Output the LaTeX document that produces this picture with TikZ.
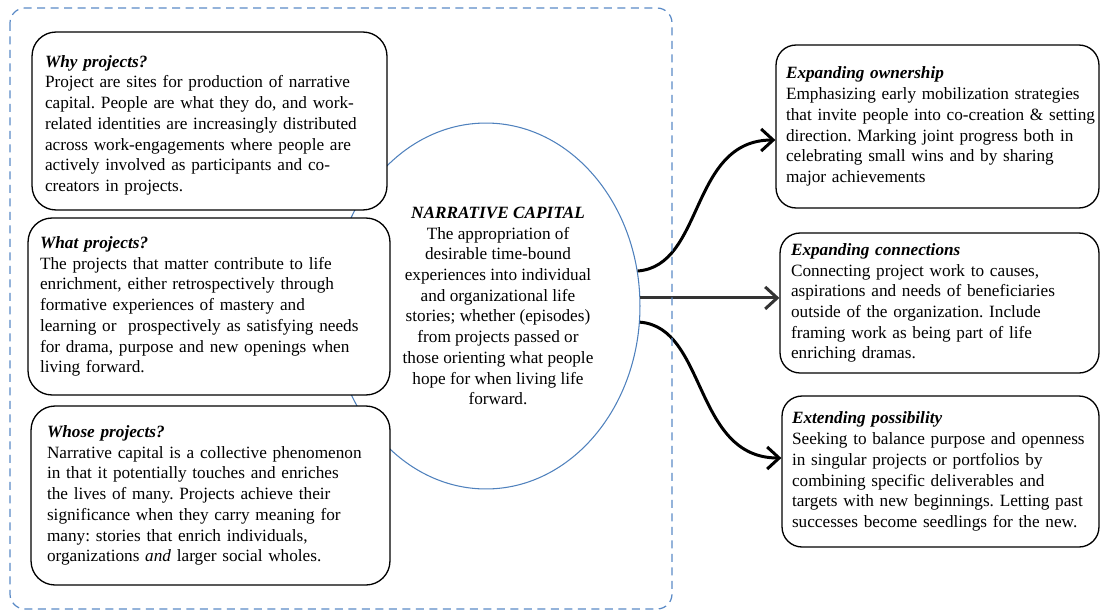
\documentclass[tikz,border=0pt]{standalone}
\usepackage{fontspec}
\setmainfont{Liberation Serif}
\usetikzlibrary{arrows.meta,positioning,calc,shapes.geometric}
\definecolor{FrameBlue}{HTML}{5A8AC6}
\definecolor{RingBlue}{HTML}{4F81BD}
\definecolor{ArrowGrey}{HTML}{333333}

\newcommand{\hd}[1]{\textbf{\textit{#1}}}
% lines are broken by hand, so keep them from wrapping again
\newcommand{\cardlines}[1]{\noindent\begin{tabular}{@{}l@{}}#1\end{tabular}}

\begin{document}
\begin{tikzpicture}[
        x=0.02cm, y=-0.02cm,
        font=\fontsize{9.8}{11.8}\selectfont\frenchspacing,
        card/.style={draw=black, fill=white, line width=0.75pt, rounded corners=0.48cm,
          inner ysep=0pt},
        rcard/.style={card, rounded corners=0.4cm},
        ring/.style={ellipse, draw=RingBlue, fill=white, line width=0.6pt, inner sep=0pt,
          minimum width=6.16cm, minimum height=7.32cm},
        flow/.style={-{Straight Barb[length=2.4mm,width=4.4mm]}, line width=1.7pt},
        dashbox/.style={draw=FrameBlue, line width=0.7pt, dash pattern=on 0.16cm off 0.11cm,
          rounded corners=0.3cm}
      ]
        \useasboundingbox (0,0) rectangle (1101,612);

        % centre concept, partly hidden behind the three cards
        \node[ring] (nc) at (486,306) {};
        \node[align=center] (nctext) at (498,306) {\hd{NARRATIVE CAPITAL}\\The appropriation of\\desirable time-bound\\experiences into individual\\and organizational life\\stories; whether (episodes)\\from projects passed or\\those orienting what people\\hope for when living life\\forward.};

        % left column
        \node[card, inner xsep=0.26cm, text width=6.58cm, minimum height=3.56cm] (why) at (209.5,121) {\cardlines{\rule{0pt}{13pt}\hd{Why projects?}\\Project are sites for production of narrative\\capital. People are what they do, and work-\\related identities are increasingly distributed\\across work-engagements where people are\\actively involved as participants and co-\\creators in projects.}};
        \node[card, inner xsep=0.24cm, text width=6.76cm, minimum height=3.54cm] (what) at (209,306.5) {\cardlines{\hd{What projects?}\\The projects that matter contribute to life\\enrichment, either retrospectively through\\formative experiences of mastery and\\learning or\ \ prospectively as satisfying needs\\for drama, purpose and new openings when\\living forward.}};
        \node[card, inner xsep=0.32cm, text width=6.54cm, minimum height=3.58cm] (whose) at (210.5,495.5) {\cardlines{\hd{Whose projects?}\\Narrative capital is a collective phenomenon\\in that it potentially touches and enriches\\the lives of many. Projects achieve their\\significance when they carry meaning for\\many: stories that enrich individuals,\\organizations \textit{and} larger social wholes.}};

        % right column
        \node[rcard, inner xsep=0.2cm, text width=6.06cm, minimum height=3.26cm] (own) at (937.5,126.5) {\cardlines{\hd{Expanding ownership}\\Emphasizing early mobilization strategies\\that invite people into co-creation \& setting\\direction. Marking joint progress both in\\celebrating small wins and by sharing\\major achievements}};
        \node[rcard, inner xsep=0.22cm, text width=5.94cm, minimum height=2.8cm] (conn) at (939.5,303) {\cardlines{\hd{Expanding connections}\\Connecting project work to causes,\\aspirations and needs of beneficiaries\\outside of the organization. Include\\framing work as being part of life\\enriching dramas.}};
        \node[rcard, inner xsep=0.2cm, text width=5.94cm, minimum height=3.02cm] (poss) at (940.5,471.5) {\cardlines{\hd{Extending possibility}\\Seeking to balance purpose and openness\\in singular projects or portfolios by\\combining specific deliverables and\\targets with new beginnings. Letting past\\successes become seedlings for the new.}};

        % arrows out of the concept
        \draw[flow] (nc.13) .. controls +(67,-5) and +(-86,0) .. ($(own.west)+(0,13.5)$);
        \draw[flow, draw=ArrowGrey] (nc.3) -- (nc.3 -| conn.west);
        \draw[flow] (nc.-6) .. controls +(67,5) and +(-88,0) .. ($(poss.west)+(0,-13.5)$);

        % dashed frame round the left group
        \draw[dashbox] (10,8) rectangle (672,609);
      \end{tikzpicture}
\end{document}
